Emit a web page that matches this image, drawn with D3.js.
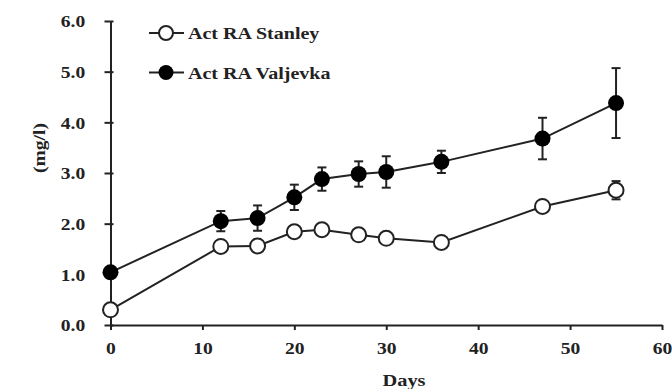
<!DOCTYPE html>
<html><head><meta charset="utf-8">
<script src="https://cdn.jsdelivr.net/npm/d3@7"></script>
<style>
html,body{margin:0;padding:0;background:#fff;}
svg text{font-family:"Liberation Serif","Times New Roman",serif;font-weight:bold;fill:#222;}
</style></head>
<body><svg id="c" width="672" height="389"></svg>
<script>
const days = [0, 12, 16, 20, 23, 27, 30, 36, 47, 55];
const stanley = [0.30, 1.55, 1.56, 1.84, 1.88, 1.78, 1.71, 1.63, 2.34, 2.66];
const stanleyErr = [0.04, 0.05, 0.12, 0.05, 0.05, 0.05, 0.05, 0.05, 0.05, 0.18];
const valjevka = [1.04, 2.05, 2.11, 2.52, 2.88, 2.98, 3.02, 3.22, 3.68, 4.38];
const valjevkaErr = [0.02, 0.20, 0.25, 0.25, 0.23, 0.25, 0.31, 0.22, 0.41, 0.69];
const xTicks = [0, 10, 20, 30, 40, 50, 60];
const yTicks = [0, 1, 2, 3, 4, 5, 6];
const seriesNames = ["Act RA Stanley", "Act RA Valjevka"];

const svg = d3.select("#c");
const x = d3.scaleLinear().domain([0, 60]).range([110.5, 662]);
const y = d3.scaleLinear().domain([0, 6]).range([325, 21]);
const ink = "#222";

// axes
const gx = svg.append("g").attr("transform", `translate(0,${y(0)})`)
  .call(d3.axisBottom(x).tickValues(xTicks).tickSize(5).tickSizeOuter(0).tickPadding(12).tickFormat(d3.format("d")));
const gy = svg.append("g").attr("transform", `translate(${x(0)},0)`)
  .call(d3.axisLeft(y).tickValues(yTicks).tickSize(6).tickSizeOuter(0).tickPadding(16).tickFormat(d3.format(".1f")));
[gx, gy].forEach(g => {
  g.select(".domain").attr("stroke", ink).attr("stroke-width", 2);
  g.selectAll(".tick line").attr("stroke", ink).attr("stroke-width", 2);
  g.selectAll(".tick text").attr("fill", ink).style("font-size", "17px");
});
gx.selectAll(".tick text").attr("transform", "scale(1.15,1)");
gy.selectAll(".tick text").attr("transform", "scale(1.15,1)").attr("dy", "0.35em");
// small inside ticks for y axis
gy.selectAll(".tick").append("line").attr("x1", 0).attr("x2", 3).attr("stroke", ink).attr("stroke-width", 2);

// axis titles
svg.append("text").attr("transform", `translate(404,386) scale(1.2,1)`)
  .attr("text-anchor", "middle").style("font-size", "17px").text("Days");
svg.append("text").attr("transform", `translate(45,148) rotate(-90) scale(1.15,1)`)
  .attr("text-anchor", "middle").style("font-size", "17px").text("(mg/l)");

function drawSeries(vals, errs, filled) {
  const g = svg.append("g");
  const pts = days.map((d, i) => ({d, v: vals[i], e: errs[i]}));
  g.append("path").datum(pts)
    .attr("d", d3.line().x(p => x(p.d)).y(p => y(p.v)))
    .attr("fill", "none").attr("stroke", ink).attr("stroke-width", 2);
  const eb = g.selectAll(".eb").data(pts).enter().append("g");
  eb.append("line").attr("x1", p => x(p.d)).attr("x2", p => x(p.d))
    .attr("y1", p => y(p.v + p.e)).attr("y2", p => y(p.v - p.e))
    .attr("stroke", ink).attr("stroke-width", 2);
  [1, -1].forEach(s => {
    eb.append("line").attr("x1", p => x(p.d) - 4.5).attr("x2", p => x(p.d) + 4.5)
      .attr("y1", p => y(p.v + s * p.e)).attr("y2", p => y(p.v + s * p.e))
      .attr("stroke", ink).attr("stroke-width", 2);
  });
  g.selectAll("circle").data(pts).enter().append("circle")
    .attr("cx", p => x(p.d)).attr("cy", p => y(p.v))
    .attr("r", filled ? 8 : 7.5)
    .attr("fill", filled ? "#000" : "#fff")
    .attr("stroke", ink).attr("stroke-width", filled ? 0 : 2);
}
drawSeries(stanley, stanleyErr, false);
drawSeries(valjevka, valjevkaErr, true);

// legend
const leg = svg.append("g");
seriesNames.forEach((name, i) => {
  const cy = 33 + i * 39.5;
  leg.append("line").attr("x1", 149).attr("x2", 184).attr("y1", cy).attr("y2", cy)
    .attr("stroke", ink).attr("stroke-width", 2);
  leg.append("circle").attr("cx", 166).attr("cy", cy).attr("r", i ? 7.5 : 7)
    .attr("fill", i ? "#000" : "#fff").attr("stroke", ink).attr("stroke-width", i ? 0 : 2);
  leg.append("text").attr("transform", `translate(188,${cy + 6}) scale(1.18,1)`)
    .style("font-size", "17px").text(name);
});
</script></body></html>
